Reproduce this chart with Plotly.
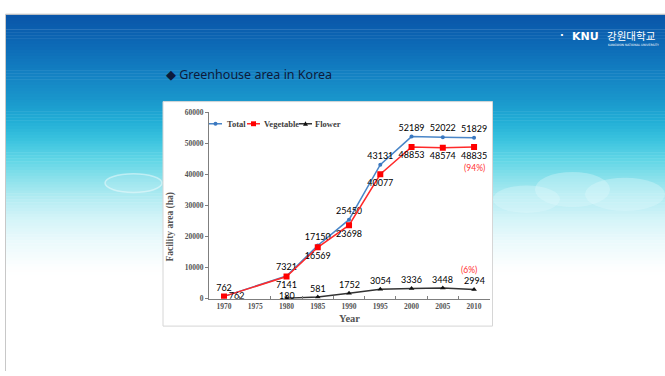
import plotly.graph_objects as go

# ---------------- data ----------------
years = ["1970", "1975", "1980", "1985", "1990", "1995", "2000", "2005", "2010"]
total = [762, None, 7321, 17150, 25450, 43131, 52189, 52022, 51829]
vegetable = [762, None, 7141, 16569, 23698, 40077, 48853, 48574, 48835]
flower = [None, None, 180, 581, 1752, 3054, 3336, 3448, 2994]
y_ticks = [0, 10000, 20000, 30000, 40000, 50000, 60000]
series_names = ["Total", "Vegetable", "Flower"]

W, H = 665, 376


def px(x):
    return x / W


def py(y):
    return 1 - y / H


def lbl(v):
    return "" if v is None else str(v)


# ---------------- background ----------------
stops = [(11, (10, 85, 168)), (40, (12, 104, 181)), (70, (19, 128, 194)),
         (100, (26, 152, 204)), (120, (34, 174, 214)), (140, (60, 196, 223)),
         (160, (98, 214, 230)), (180, (141, 226, 236)), (200, (181, 236, 243)),
         (220, (212, 244, 248)), (245, (236, 250, 252)), (270, (253, 254, 254)),
         (280, (255, 255, 255))]


def col_at(y):
    for (y0, c0), (y1, c1) in zip(stops[:-1], stops[1:]):
        if y0 <= y <= y1:
            t = (y - y0) / (y1 - y0)
            return "rgb(%d,%d,%d)" % tuple(round(a + (b - a) * t) for a, b in zip(c0, c1))
    return "rgb(255,255,255)"


shapes = []
step = 3
y = 11
while y < 280:
    shapes.append(dict(type="rect", xref="paper", yref="paper", layer="below",
                       x0=px(6), x1=1, y0=py(y + step + 0.5), y1=py(y),
                       fillcolor=col_at(y + step / 2), line=dict(width=0)))
    y += step
# top and left borders
shapes.append(dict(type="line", xref="paper", yref="paper", layer="below",
                   x0=px(5.5), x1=1, y0=py(10.5), y1=py(10.5),
                   line=dict(color="#b8b8b8", width=1)))
shapes.append(dict(type="line", xref="paper", yref="paper", layer="below",
                   x0=px(5.5), x1=px(5.5), y0=py(10.5), y1=0,
                   line=dict(color="#c8c8c8", width=1)))
# clouds
shapes.append(dict(type="circle", xref="paper", yref="paper", layer="below",
                   x0=px(105), x1=px(162), y0=py(193), y1=py(174),
                   fillcolor="rgba(255,255,255,0.12)",
                   line=dict(color="rgba(255,255,255,0.45)", width=1.5)))
for (cx0, cx1, cy0, cy1) in [(535, 610, 172, 208), (585, 665, 178, 212), (493, 560, 186, 214)]:
    shapes.append(dict(type="circle", xref="paper", yref="paper", layer="below",
                       x0=px(cx0), x1=px(cx1), y0=py(cy1), y1=py(cy0),
                       fillcolor="rgba(225,248,251,0.35)", line=dict(width=0)))
# chart box
shapes.append(dict(type="rect", xref="paper", yref="paper", layer="below",
                   x0=px(163), x1=px(492.5), y0=py(330), y1=py(100),
                   fillcolor="white", line=dict(color="#d6d6d6", width=1)))

# ---------------- legend (drawn inside the chart box) ----------------
leg_y = 122.7
leg = [(209, 222, 225, "#4a86c8", "circle"), (247, 260, 262, "#ff2a2a", "square"),
       (299, 312, 313, "#333333", "triangle")]
for (lx0, lx1, tx, c, sym) in leg:
    shapes.append(dict(type="line", xref="paper", yref="paper", layer="above",
                       x0=px(lx0), x1=px(lx1), y0=py(leg_y), y1=py(leg_y),
                       line=dict(color=c, width=1.5)))
    cx = (lx0 + lx1) / 2
    if sym == "circle":
        shapes.append(dict(type="circle", xref="paper", yref="paper", layer="above",
                           x0=px(cx - 2), x1=px(cx + 2), y0=py(leg_y + 2), y1=py(leg_y - 2),
                           fillcolor="#3a78c0", line=dict(width=0)))
    elif sym == "square":
        shapes.append(dict(type="rect", xref="paper", yref="paper", layer="above",
                           x0=px(cx - 2.5), x1=px(cx + 2.5), y0=py(leg_y + 2.5), y1=py(leg_y - 2.5),
                           fillcolor="#ff0000", line=dict(width=0)))
    else:
        shapes.append(dict(type="path", xref="paper", yref="paper", layer="above",
                           path="M %f %f L %f %f L %f %f Z" % (
                               px(cx - 2.5), py(leg_y + 2), px(cx + 2.5), py(leg_y + 2),
                               px(cx), py(leg_y - 2.5)),
                           fillcolor="#111111", line=dict(width=0)))

# ---------------- traces ----------------
fig = go.Figure()

total_pos = ["top center"] * len(years)
veg_pos = ["bottom center"] * len(years)
veg_pos[0] = "middle right"
lab_font = dict(family="Lato", size=9, color="#000000")

fig.add_trace(go.Scatter(
    x=years, y=total, name=series_names[0], mode="lines+markers+text",
    connectgaps=True,
    line=dict(color="#4a86c8", width=1.5),
    marker=dict(symbol="circle", size=4, color="#3a78c0"),
    text=[lbl(v) for v in total], textposition=total_pos, textfont=lab_font))

fig.add_trace(go.Scatter(
    x=years, y=vegetable, name=series_names[1], mode="lines+markers+text",
    connectgaps=True,
    line=dict(color="#ff2a2a", width=1.5),
    marker=dict(symbol="square", size=6, color="#ff0000"),
    text=[lbl(v) for v in vegetable], textposition=veg_pos, textfont=lab_font))

fig.add_trace(go.Scatter(
    x=years, y=flower, name=series_names[2], mode="lines+markers",
    connectgaps=True,
    line=dict(color="#333333", width=1.5),
    marker=dict(symbol="triangle-up", size=5, color="#111111")))

serif = "Liberation Serif"
leg_font = dict(family=serif, size=8.5, color="#404040", weight="bold")

annotations = [
    dict(text="◆ Greenhouse area in Korea", x=px(164), y=py(72), xref="paper", yref="paper",
         xanchor="left", yanchor="middle", showarrow=False,
         font=dict(family="Noto Sans", size=12.5, color="#0d1a3a")),
    dict(text="Facility area (ha)", x=px(171), y=py(228), xref="paper", yref="paper",
         textangle=-90, showarrow=False, xanchor="center", yanchor="middle",
         font=dict(family=serif, size=9.5, color="#555555", weight="bold")),
    dict(text="Year", x=px(349), y=py(322), xref="paper", yref="paper",
         showarrow=False, xanchor="center", yanchor="middle",
         font=dict(family=serif, size=10.5, color="#555555", weight="bold")),
    dict(text="(94%)", x=8, y=42200, xref="x", yref="y", showarrow=False,
         xanchor="center", yanchor="middle",
         font=dict(family="Lato", size=8.5, color="#ff3030")),
    dict(text="(6%)", x=7.85, y=9300, xref="x", yref="y", showarrow=False,
         xanchor="center", yanchor="middle",
         font=dict(family="Lato", size=8.5, color="#ff3030")),
    # logo
    dict(text="<b>·</b>", x=px(566), y=py(25), xref="paper", yref="paper", showarrow=False,
         font=dict(family="DejaVu Sans", size=10, color="white")),
    dict(text="<b>KNU</b>", x=px(570), y=py(33), xref="paper", yref="paper", showarrow=False,
         xanchor="left", yanchor="middle",
         font=dict(family="DejaVu Sans", size=11, color="white")),
    dict(text="강원대학교", x=px(605), y=py(32), xref="paper", yref="paper", showarrow=False,
         xanchor="left", yanchor="middle",
         font=dict(family="Noto Sans CJK KR", size=10.5, color="white")),
    dict(text="KANGWON NATIONAL UNIVERSITY", x=px(606), y=py(42), xref="paper", yref="paper",
         showarrow=False, xanchor="left", yanchor="middle",
         font=dict(family="DejaVu Sans", size=3, color="white")),
]
for (lx0, lx1, tx, c, sym), name in zip(leg, series_names):
    annotations.append(dict(text=name, x=px(tx), y=py(leg_y), xref="paper", yref="paper",
                            xanchor="left", yanchor="middle", showarrow=False,
                            font=leg_font))
# flower value labels, sitting just above their markers
for i, (yr, v) in enumerate(zip(years, flower)):
    if v is None:
        continue
    if i == 2:
        annotations.append(dict(text=lbl(v), x=i, y=v, xref="x", yref="y", showarrow=False,
                                xanchor="center", yanchor="middle", yshift=3,
                                font=lab_font))
    else:
        annotations.append(dict(text=lbl(v), x=i, y=v, xref="x", yref="y", showarrow=False,
                                xanchor="center", yanchor="bottom", yshift=1,
                                font=lab_font))

fig.update_layout(
    width=W, height=H, margin=dict(l=0, r=0, t=0, b=0),
    paper_bgcolor="white", plot_bgcolor="rgba(0,0,0,0)",
    shapes=shapes, annotations=annotations,
    showlegend=False,
    xaxis=dict(type="category", categoryorder="array", categoryarray=years,
               domain=[px(209), px(490)], range=[-0.48, 8.51],
               showline=True, linecolor="#7f7f7f", linewidth=1,
               ticks="inside", ticklen=3, tickcolor="#7f7f7f", tickson="boundaries",
               showgrid=False, zeroline=False,
               tickfont=dict(family=serif, size=7.5, color="#555555", weight="bold")),
    yaxis=dict(range=[0, 60000], tickvals=y_ticks, ticktext=[str(v) for v in y_ticks],
               domain=[py(302), py(111)],
               showline=True, linecolor="#7f7f7f", linewidth=1,
               ticks="outside", ticklen=3, tickcolor="#7f7f7f",
               showgrid=False, zeroline=False,
               tickfont=dict(family=serif, size=7.5, color="#555555", weight="bold")),
)

fig.write_html("out.html")
